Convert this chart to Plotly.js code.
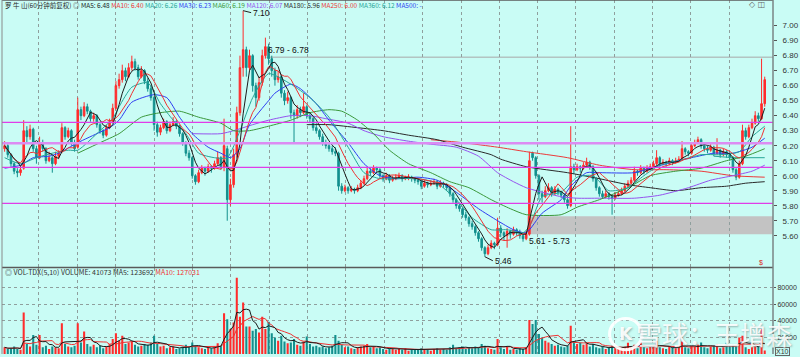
<!DOCTYPE html>
<html><head><meta charset="utf-8">
<script src="https://cdn.plot.ly/plotly-3.0.1.min.js"></script>
<style>html,body{margin:0;padding:0;background:#c9fcf5;}#chart{width:800px;height:357px;}</style>
</head><body><div id="chart"></div>
<script>
// ---------------- DATA ----------------
const opens = [
6.18,6.20,6.14,6.08,6.03,6.02,6.05,6.30,6.26,6.31,
6.18,6.12,6.22,6.18,6.10,6.12,6.08,6.13,6.16,6.32,
6.26,6.30,6.22,6.19,6.44,6.40,6.46,6.43,6.38,6.40,
6.34,6.30,6.27,6.32,6.36,6.45,6.60,6.64,6.70,6.66,
6.72,6.76,6.72,6.66,6.70,6.63,6.58,6.52,6.34,6.29,
6.32,6.36,6.30,6.34,6.36,6.33,6.28,6.22,6.15,6.12,
6.00,5.96,6.02,6.05,6.03,6.06,6.05,6.08,6.12,6.06,
6.18,5.84,5.94,6.14,6.42,6.72,6.84,6.72,6.80,6.60,
6.52,6.62,6.80,6.86,6.78,6.70,6.64,6.66,6.55,6.50,
6.52,6.42,6.40,6.44,6.42,6.46,6.40,6.38,6.32,6.30,
6.26,6.22,6.20,6.18,6.16,6.15,5.93,5.90,5.92,5.90,
5.91,5.90,5.92,5.95,5.98,6.03,6.02,6.05,6.04,6.00,
5.98,6.00,5.97,5.98,5.99,6.00,5.98,5.99,5.99,5.98,
5.97,5.96,5.93,5.95,5.94,5.95,5.96,5.93,5.95,5.94,
5.92,5.88,5.84,5.80,5.78,5.74,5.72,5.68,5.66,5.62,
5.58,5.52,5.48,5.52,5.55,5.54,5.65,5.62,5.60,5.63,
5.61,5.64,5.62,5.60,5.58,5.61,6.15,6.12,6.00,5.88,
5.86,5.90,5.92,5.88,5.91,5.89,5.87,5.84,5.80,6.06,
6.04,6.06,6.05,6.07,6.09,6.06,5.98,5.92,5.88,5.86,
5.88,5.86,5.85,5.87,5.88,5.90,5.93,5.95,5.97,6.03,
6.02,6.05,6.03,6.05,6.06,6.08,6.12,6.08,6.09,6.08,
6.10,6.09,6.10,6.11,6.18,6.16,6.15,6.20,6.22,6.24,
6.20,6.18,6.17,6.19,6.15,6.17,6.14,6.16,6.14,6.12,
6.04,5.99,6.08,6.30,6.26,6.32,6.35,6.40,6.38,6.48];
const highs = [
6.23,6.21,6.15,6.09,6.05,6.07,6.37,6.33,6.34,6.32,
6.20,6.26,6.24,6.19,6.16,6.13,6.16,6.17,6.35,6.33,
6.32,6.31,6.24,6.52,6.46,6.49,6.48,6.44,6.42,6.41,
6.35,6.31,6.34,6.38,6.48,6.63,6.68,6.74,6.72,6.75,
6.80,6.78,6.74,6.73,6.71,6.65,6.60,6.53,6.36,6.34,
6.38,6.37,6.36,6.39,6.37,6.34,6.29,6.23,6.17,6.13,
6.01,6.04,6.07,6.06,6.08,6.07,6.10,6.16,6.13,6.38,
6.20,5.98,6.18,6.46,6.80,7.10,6.86,6.84,6.81,6.62,
6.66,6.84,6.92,6.88,6.80,6.72,6.70,6.67,6.57,6.56,
6.53,6.44,6.47,6.46,6.55,6.47,6.42,6.39,6.35,6.31,
6.28,6.24,6.22,6.20,6.19,6.16,5.95,5.94,5.93,5.93,
5.92,5.94,5.97,6.00,6.06,6.05,6.07,6.06,6.05,6.01,
6.02,6.01,6.00,6.01,6.02,6.01,6.00,6.01,6.00,5.99,
5.98,5.97,5.97,5.96,5.97,5.98,5.97,5.97,5.96,5.95,
5.93,5.89,5.85,5.82,5.79,5.76,5.73,5.70,5.67,5.63,
5.59,5.53,5.54,5.57,5.56,5.72,5.67,5.63,5.65,5.64,
5.66,5.65,5.64,5.61,5.63,6.16,6.16,6.13,6.01,5.90,
5.93,5.95,5.93,5.93,5.92,5.90,5.88,5.85,6.33,6.08,
6.08,6.07,6.09,6.12,6.10,6.07,5.99,5.93,5.90,5.90,
5.89,5.87,5.89,5.90,5.92,5.95,5.97,5.99,6.06,6.04,
6.07,6.06,6.07,6.08,6.10,6.17,6.13,6.11,6.10,6.12,
6.11,6.12,6.13,6.23,6.19,6.17,6.22,6.24,6.26,6.25,
6.21,6.20,6.21,6.20,6.25,6.18,6.18,6.17,6.15,6.13,
6.05,6.10,6.34,6.32,6.34,6.38,6.43,6.42,6.78,6.66];
const lows = [
6.16,6.12,6.06,6.01,5.99,6.00,6.04,6.22,6.24,6.16,
6.08,6.11,6.16,6.08,6.09,6.02,6.07,6.11,6.15,6.24,
6.25,6.20,6.16,6.18,6.37,6.39,6.41,6.36,6.36,6.32,
6.28,6.25,6.26,6.31,6.35,6.44,6.58,6.62,6.63,6.65,
6.70,6.70,6.64,6.65,6.61,6.56,6.50,6.30,6.26,6.27,
6.31,6.28,6.29,6.33,6.31,6.26,6.20,6.13,6.10,5.98,
5.94,5.95,6.01,6.00,6.02,6.02,6.04,6.07,6.04,6.03,
5.70,5.80,5.92,6.12,6.40,6.66,6.66,6.70,6.56,6.46,
6.50,6.60,6.78,6.74,6.66,6.60,6.62,6.52,6.47,6.48,
6.38,6.22,6.38,6.39,6.41,6.38,6.35,6.30,6.28,6.24,
6.20,6.18,6.16,6.14,6.13,5.90,5.88,5.89,5.88,5.89,
5.88,5.89,5.91,5.94,5.97,6.00,6.01,6.02,5.98,5.96,
5.97,5.95,5.96,5.97,5.98,5.96,5.97,5.97,5.96,5.95,
5.94,5.91,5.92,5.92,5.93,5.94,5.91,5.92,5.92,5.90,
5.86,5.82,5.78,5.76,5.72,5.70,5.66,5.64,5.60,5.56,
5.50,5.46,5.47,5.51,5.51,5.53,5.59,5.57,5.52,5.58,
5.60,5.60,5.58,5.56,5.57,5.60,6.10,5.98,5.84,5.82,
5.85,5.89,5.86,5.87,5.87,5.85,5.82,5.78,5.79,6.01,
6.03,6.02,6.04,6.06,6.04,5.96,5.90,5.86,5.85,5.85,
5.84,5.74,5.84,5.86,5.87,5.89,5.92,5.94,5.96,6.00,
6.01,6.01,6.02,6.04,6.05,6.07,6.06,6.07,6.06,6.07,
6.07,6.08,6.09,6.10,6.14,6.13,6.14,6.19,6.21,6.18,
6.16,6.15,6.16,6.13,6.14,6.12,6.13,6.12,6.10,6.02,
5.97,5.98,6.07,6.24,6.25,6.31,6.34,6.36,6.37,6.46];
const closes = [
6.20,6.14,6.08,6.03,6.02,6.04,6.30,6.26,6.31,6.18,
6.12,6.22,6.18,6.10,6.12,6.08,6.13,6.15,6.32,6.26,
6.30,6.22,6.18,6.44,6.40,6.46,6.43,6.38,6.40,6.34,
6.30,6.27,6.32,6.36,6.45,6.60,6.64,6.70,6.66,6.72,
6.76,6.72,6.66,6.70,6.63,6.58,6.52,6.34,6.29,6.32,
6.36,6.30,6.34,6.36,6.33,6.28,6.22,6.15,6.12,6.00,
5.96,6.02,6.05,6.03,6.06,6.05,6.08,6.12,6.06,6.20,
5.84,5.94,6.14,6.42,6.72,6.84,6.72,6.80,6.60,6.52,
6.62,6.80,6.86,6.78,6.70,6.64,6.66,6.55,6.50,6.52,
6.42,6.40,6.44,6.42,6.46,6.40,6.38,6.32,6.30,6.26,
6.22,6.20,6.18,6.16,6.15,5.93,5.90,5.92,5.90,5.91,
5.90,5.92,5.95,5.98,6.03,6.02,6.05,6.04,6.00,5.98,
6.00,5.97,5.98,5.99,6.00,5.98,5.99,5.99,5.98,5.97,
5.96,5.93,5.95,5.94,5.95,5.96,5.93,5.95,5.94,5.92,
5.88,5.84,5.80,5.78,5.74,5.72,5.68,5.66,5.62,5.58,
5.52,5.48,5.52,5.55,5.54,5.65,5.62,5.60,5.63,5.61,
5.64,5.62,5.60,5.58,5.61,6.10,6.12,6.00,5.88,5.86,
5.90,5.92,5.88,5.91,5.89,5.87,5.84,5.80,6.06,6.04,
6.06,6.05,6.07,6.09,6.06,5.98,5.92,5.88,5.86,5.88,
5.86,5.85,5.87,5.88,5.90,5.93,5.95,5.97,6.03,6.02,
6.05,6.03,6.05,6.06,6.08,6.12,6.08,6.09,6.08,6.10,
6.09,6.10,6.11,6.18,6.16,6.15,6.20,6.22,6.24,6.20,
6.18,6.17,6.19,6.15,6.17,6.14,6.16,6.14,6.12,6.04,
5.99,6.08,6.30,6.26,6.32,6.35,6.40,6.38,6.48,6.64];
const volumes = [
8000,6000,7000,9000,6000,5000,50000,12000,9000,23000,
11000,23000,8000,10000,6000,9000,8000,7000,37000,12000,
9000,8000,10000,37000,14000,27000,12000,9000,11000,8000,
10000,7000,9000,12000,18000,25000,16000,22000,12000,14000,
15000,11000,9000,10000,12000,11000,14000,22000,12000,9000,
10000,7000,8000,9000,6000,7000,9000,11000,8000,14000,
10000,8000,7000,6000,8000,7000,9000,13000,10000,49000,
42000,30000,38000,92000,45000,62000,33000,33000,28000,30000,
26000,45000,30000,39000,25000,20000,16000,22000,15000,13000,
14000,18000,11000,10000,15000,21000,12000,9000,10000,8000,
9000,7000,8000,10000,23000,16000,11000,8000,9000,7000,
6000,8000,9000,10000,12000,8000,9000,7000,8000,6000,
5000,7000,6000,5000,6000,5000,7000,4000,5000,6000,
5000,7000,6000,5000,4000,6000,7000,5000,6000,5000,
8000,11000,7000,8000,9000,6000,8000,7000,9000,8000,
12000,10000,7000,6000,5000,18000,8000,6000,9000,5000,
6000,5000,7000,6000,8000,41000,36000,41000,24000,20000,
16000,14000,12000,10000,11000,9000,8000,10000,34000,15000,
12000,14000,11000,13000,9000,12000,8000,7000,9000,6000,
8000,10000,7000,6000,8000,9000,13500,8000,11000,7000,
14000,8000,7000,9000,10000,16000,8000,7000,6000,9000,
8000,7000,9000,15000,8000,7000,10000,9000,11000,14000,
8000,7000,9000,10000,12000,7000,8000,13500,9000,11000,
9000,20000,22000,8000,6000,10000,9000,9000,30000,4100];

// moving averages (bar index -> value)
const ma20X = [0,5,10,15,20,23,30,34,36,40,45,49,53,57,61,66,70,74,78,83,90,96,102,108,113,118,123,130,136,142,147,153,158,163,165,169,175,180,185,190,196,201,206,212,219,225,231,235,239];
const ma20Y = [6.12,6.08,6.12,6.15,6.17,6.17,6.30,6.38,6.46,6.59,6.62,6.48,6.37,6.28,6.15,6.12,6.12,6.30,6.52,6.68,6.61,6.52,6.39,6.19,6.02,5.98,5.98,5.98,5.95,5.84,5.72,5.64,5.64,5.62,5.66,5.86,5.89,5.99,6.00,5.90,5.92,6.00,6.07,6.10,6.14,6.14,6.16,6.26,6.33];
const ma30X = [0,5,9,14,17,23,30,33,36,40,47,51,55,59,64,68,71,74,77,83,85,90,93,98,102,108,113,118,123,130,136,142,149,155,160,164,169,175,178,183,187,198,203,210,216,223,229,235,239];
const ma30Y = [6.05,6.07,6.12,6.13,6.15,6.22,6.29,6.32,6.37,6.49,6.54,6.52,6.39,6.28,6.19,6.15,6.12,6.18,6.34,6.50,6.55,6.61,6.58,6.48,6.37,6.22,6.08,6.00,5.98,5.99,5.97,5.89,5.78,5.70,5.64,5.62,5.75,5.84,5.93,6.02,6.02,6.02,6.05,6.09,6.12,6.15,6.15,6.19,6.25];
const ma60X = [23,30,36,43,49,55,61,68,72,77,83,90,96,102,106,111,116,121,127,134,140,146,153,159,164,175,180,187,196,203,211,219,227,233,239];
const ma60Y = [6.15,6.22,6.28,6.39,6.42,6.43,6.39,6.35,6.30,6.30,6.33,6.37,6.42,6.44,6.43,6.37,6.28,6.17,6.08,6.02,5.96,5.92,5.84,5.78,5.74,5.74,5.79,5.84,5.92,6.00,6.03,6.05,6.10,6.13,6.18];
const ma120X = [59,68,72,78,83,90,96,101,108,113,119,127,134,142,149,155,160,164,169,175,180,187,198,206,215,222,229,235,239];
const ma120Y = [6.28,6.28,6.30,6.34,6.37,6.40,6.40,6.38,6.35,6.30,6.26,6.23,6.21,6.19,6.13,6.02,5.96,5.92,5.89,5.86,5.85,5.85,5.85,5.87,5.92,5.97,6.00,6.03,6.07];
const ma180X = [95,102,111,119,127,136,144,153,156,164,177,187,196,203,211,219,227,233,239];
const ma180Y = [6.34,6.34,6.32,6.30,6.27,6.24,6.19,6.14,6.11,6.06,6.02,5.98,5.94,5.92,5.90,5.92,5.93,5.95,5.96];
const ma250X = [134,144,155,164,177,187,198,208,219,229,239];
const ma250Y = [6.24,6.22,6.19,6.16,6.12,6.07,6.04,6.04,6.03,6.00,5.99];
const ma360X = [223,229,239];
const ma360Y = [6.13,6.12,6.12];

// drawn levels, zones, labels
const levelLines = [6.356, 6.216, 6.056, 5.816];
const resistLevel = 6.79, resistStart = 82.3;
const zoneLow = 5.61, zoneHigh = 5.73, zoneStart = 164.3;
const priceTicks = [5.6,5.7,5.8,5.9,6.0,6.1,6.2,6.3,6.4,6.5,6.6,6.7,6.8,6.9,7.0];
const priceGrid = [5.6,5.8,6.0,6.2,6.4,6.6,6.8,7.0];
const volTicks = [20000,40000,60000,80000];
const weekLines = [10.8,22.9,34.9,47.0,59.0,71.1,83.2,95.2,107.3,119.3,131.4,143.5,155.5,167.6,179.6,191.7,203.8,215.8,227.9];
const maNames = ['MA5','MA10','MA20','MA30','MA60','MA120','MA180','MA250','MA360','MA500'];
const maHeaderVals = ['6.48','6.40','6.26','6.23','6.19','6.07','5.96','6.00','6.12','-'];
const stockTitle = '罗 牛 山(60分钟前复权)';
const volHeader = ['VOL-TDX(5,10)', 'VOLUME: 41073', 'MA5: 123692', 'MA10: 127031'];

// ---------------- STYLE ----------------
const BG = '#c9fcf5', UP = '#ff2c2c', DN = '#13908e', GRID = '#8f9f9d';
const maColors = ['#1c1c1c','#f03232','#27a597','#2f3cf2','#3b983b','#9552ef','#2a2a2a','#ec3a3a','#27a597','#2f3cf2'];
const X_MIN = -0.82, X_MAX = 241.6;

function sma(arr, n) {
  return arr.map((_, i) => {
    const s = Math.max(0, i - n + 1); let t = 0;
    for (let k = s; k <= i; k++) t += arr[k];
    return t / (i - s + 1);
  });
}
const idx = closes.map((_, i) => i);
const ma5 = sma(closes, 5), ma10 = sma(closes, 10);
const vma5 = sma(volumes, 5), vma10 = sma(volumes, 10);
const volColors = closes.map((c, i) => c >= opens[i] ? UP : DN);

const traces = [
  {type:'candlestick', x: idx, open: opens, high: highs, low: lows, close: closes,
   increasing:{line:{color:UP,width:1}, fillcolor:UP},
   decreasing:{line:{color:DN,width:1}, fillcolor:DN},
   whiskerwidth:0, xaxis:'x', yaxis:'y', hoverinfo:'skip'},
  {type:'scatter', mode:'lines', x: ma360X, y: ma360Y, line:{color:maColors[8],width:1}, xaxis:'x', yaxis:'y'},
  {type:'scatter', mode:'lines', x: ma250X, y: ma250Y, line:{color:maColors[7],width:1,shape:'spline',smoothing:0.6}, xaxis:'x', yaxis:'y'},
  {type:'scatter', mode:'lines', x: ma180X, y: ma180Y, line:{color:maColors[6],width:1,shape:'spline',smoothing:0.6}, xaxis:'x', yaxis:'y'},
  {type:'scatter', mode:'lines', x: ma120X, y: ma120Y, line:{color:maColors[5],width:1,shape:'spline',smoothing:0.6}, xaxis:'x', yaxis:'y'},
  {type:'scatter', mode:'lines', x: ma60X, y: ma60Y, line:{color:maColors[4],width:1,shape:'spline',smoothing:0.6}, xaxis:'x', yaxis:'y'},
  {type:'scatter', mode:'lines', x: ma30X, y: ma30Y, line:{color:maColors[3],width:1,shape:'spline',smoothing:0.6}, xaxis:'x', yaxis:'y'},
  {type:'scatter', mode:'lines', x: ma20X, y: ma20Y, line:{color:maColors[2],width:1,shape:'spline',smoothing:0.6}, xaxis:'x', yaxis:'y'},
  {type:'scatter', mode:'lines', x: idx, y: ma10, line:{color:maColors[1],width:1}, xaxis:'x', yaxis:'y'},
  {type:'scatter', mode:'lines', x: idx, y: ma5, line:{color:maColors[0],width:1}, xaxis:'x', yaxis:'y'},
  {type:'bar', x: idx, y: volumes, marker:{color: volColors, line:{width:0}}, xaxis:'x2', yaxis:'y2'},
  {type:'scatter', mode:'lines', x: idx, y: vma10, line:{color:'#f03232',width:1}, xaxis:'x2', yaxis:'y2'},
  {type:'scatter', mode:'lines', x: idx, y: vma5, line:{color:'#1c1c1c',width:1}, xaxis:'x2', yaxis:'y2'}
];

const SPLIT = 0.2443;
const axX = {range:[X_MIN, X_MAX], tickvals: weekLines, showticklabels:false, ticks:'',
  showgrid:true, gridcolor:GRID, griddash:'dot', gridwidth:1, zeroline:false, showline:false, fixedrange:true};
const tickFont = {family:'Liberation Sans, Arial, sans-serif', size:8, color:'#333'};
const volTickFont = {family:'Liberation Sans, Arial, sans-serif', size:7, color:'#333'};

const shapes = [];
levelLines.forEach((v, k) => shapes.push({type:'line', xref:'paper', yref:'y', x0:0, x1:1, y0:v, y1:v,
  line:{color: k === 1 ? '#dc8cf2' : '#e03ce8', width: k === 1 ? 2.5 : 1.3}, layer:'above'}));
shapes.push({type:'line', xref:'x', yref:'y', x0:resistStart, x1:X_MAX, y0:resistLevel, y1:resistLevel, line:{color:'#a8a8a8', width:1}, layer:'below'});
shapes.push({type:'rect', xref:'x', yref:'y', x0:zoneStart, x1:X_MAX, y0:zoneLow, y1:zoneHigh, fillcolor:'#c3c3c3', line:{width:0}, layer:'below'});
shapes.push({type:'line', xref:'paper', yref:'paper', x0:0, x1:1, y0:SPLIT, y1:SPLIT, line:{color:'#5a5a5a', width:1.5}});
shapes.push({type:'line', xref:'paper', yref:'paper', x0:0, x1:1, y0:1, y1:1, line:{color:'#5a5a5a', width:1.5}});
shapes.push({type:'line', xref:'paper', yref:'paper', x0:0, x1:0, y0:0, y1:1, line:{color:'#8a8a8a', width:1}});
shapes.push({type:'line', xref:'paper', yref:'paper', x0:1, x1:1, y0:0, y1:1, line:{color:'#7a8484', width:1.5}});
// watermark logo ring
shapes.push({type:'circle', xref:'paper', yref:'paper', x0:0.788, x1:0.830, y0:0.012, y1:0.100, line:{color:'rgba(255,255,255,0.92)', width:3}});

let header = '<span style="color:#2a2a2a">' + stockTitle + '</span> <span style="color:#555">◎</span>';
maNames.forEach((n, k) => { header += ' <span style="color:' + maColors[k] + '">' + n + ': ' + maHeaderVals[k] + '</span>'; });
const vh = '<span style="color:#333">◎ ' + volHeader[0] + ' ' + volHeader[1] + ' ' + volHeader[2] + '</span> <span style="color:#f03232">' + volHeader[3] + '</span>';

const lblFont = {family:'Liberation Sans, Arial, sans-serif', size:8.5, color:'#111'};
const annotations = [
  {xref:'paper', yref:'paper', x:0.001, y:0.987, xanchor:'left', yanchor:'middle', text: header, showarrow:false,
   font:{family:'Noto Sans CJK SC, sans-serif', size:6.5, color:'#222'}},
  {xref:'paper', yref:'paper', x:0.001, y:0.231, xanchor:'left', yanchor:'middle', text: vh, showarrow:false,
   font:{family:'Noto Sans CJK SC, sans-serif', size:7, color:'#222'}},
  {xref:'paper', yref:'paper', x:0.992, y:0.987, xanchor:'right', yanchor:'middle', text:'◇ ◫', showarrow:false,
   font:{family:'DejaVu Sans', size:8, color:'#666'}},
  {xref:'x', yref:'y', x:75, y:7.10, ax:8, ay:2, xanchor:'left', yanchor:'middle', text:'7.10', showarrow:true,
   arrowhead:0, arrowwidth:1, arrowcolor:'#222', standoff:0, font:lblFont},
  {xref:'x', yref:'y', x:resistStart, y:resistLevel, xanchor:'left', yanchor:'bottom', text:'6.79 - 6.78', showarrow:false, font:lblFont},
  {xref:'x', yref:'y', x:151, y:5.46, ax:8, ay:4, xanchor:'left', yanchor:'middle', text:'5.46', showarrow:true,
   arrowhead:0, arrowwidth:1, arrowcolor:'#222', standoff:0, font:lblFont},
  {xref:'x', yref:'y', x:zoneStart, y:zoneLow, xanchor:'left', yanchor:'top', text:'5.61 - 5.73', showarrow:false, font:lblFont},
  {xref:'x', yref:'y', x:237.8, y:5.42, xanchor:'center', yanchor:'middle', text:'$', showarrow:false,
   font:{family:'Liberation Sans', size:7, color:'#e02020'}},
  {xref:'paper', yref:'paper', x:1.003, y:0.006, xanchor:'left', yanchor:'middle', text:'X10', showarrow:false,
   bordercolor:'#666', borderwidth:1, borderpad:0, font:{family:'Liberation Sans', size:7, color:'#333'}},
  {xref:'paper', yref:'paper', x:0.809, y:0.056, xanchor:'center', yanchor:'middle', text:'<b>K</b>', showarrow:false,
   font:{family:'DejaVu Sans', size:17, color:'rgba(255,255,255,0.92)', shadow:'1px 1px 2px rgba(90,110,110,0.55)'}},
  {xref:'paper', yref:'paper', x:0.923, y:0.057, xanchor:'center', yanchor:'middle', text:'雪球：王增森', showarrow:false,
   font:{family:'Noto Sans CJK SC, sans-serif', size:26, color:'rgba(255,255,255,0.9)', shadow:'1px 1px 2px rgba(90,110,110,0.55)'}}
];

const layout = {
  width:800, height:357, margin:{l:2, r:27, t:0, b:3},
  paper_bgcolor:BG, plot_bgcolor:BG, showlegend:false, bargap:0.35,
  xaxis: Object.assign({}, axX, {anchor:'y', rangeslider:{visible:false}}),
  xaxis2: Object.assign({}, axX, {anchor:'y2'}),
  yaxis: {domain:[SPLIT, 1], range:[5.388, 7.171], side:'right', tickvals: priceTicks, tickformat:'.2f',
    ticks:'outside', ticklen:3, tickcolor:'#555', tickfont:tickFont, ticklabelstandoff:4,
    showgrid:false, zeroline:false, showline:false, fixedrange:true},
  yaxis3: {overlaying:'y', range:[5.388, 7.171], side:'right', tickvals: priceGrid, showticklabels:false, ticks:'',
    showgrid:true, gridcolor:GRID, griddash:'dot', zeroline:false, showline:false, fixedrange:true},
  yaxis2: {domain:[0, SPLIT], range:[0, 104200], side:'right', tickvals: volTicks, tickformat:'d',
    ticks:'outside', ticklen:2, tickcolor:'#555', tickfont:volTickFont, ticklabelstandoff:0,
    showgrid:true, gridcolor:GRID, griddash:'dot', zeroline:false, showline:false, fixedrange:true},
  shapes, annotations
};
Plotly.newPlot('chart', traces, layout, {staticPlot:true, displayModeBar:false});
</script>
</body></html>
